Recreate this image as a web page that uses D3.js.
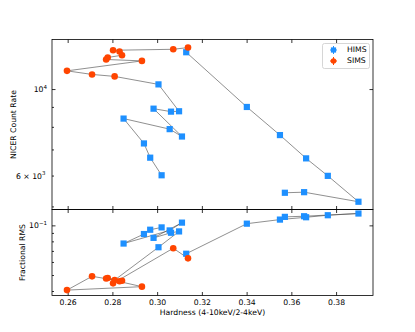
<!DOCTYPE html>
<html><head><meta charset="utf-8">
<script src="https://cdn.jsdelivr.net/npm/d3@7"></script>
<style>body{margin:0;background:#fff}svg{display:block}text{font-family:"DejaVu Sans",sans-serif;fill:#000}</style>
</head><body><svg id="c" width="415" height="332"></svg>
<script>
// Time-ordered observations
const hardness = [0.3571,0.3657,0.3900,0.3763,0.3666,0.3549,0.3401,0.3130,0.3138,0.3072,
  0.2803,0.2832,0.2843,0.2779,0.2772,0.2932,0.2597,0.2709,0.2810,0.3006,
  0.3098,0.3062,0.2984,0.3111,0.3056,0.2850,0.2941,0.2969,0.3020];
const countRate = [5420,5439,5140,5989,6641,7620,8996,12429,12776,12647,
  12574,12479,12213,12049,11908,11810,11135,10902,10775,10280,
  8771,8751,8906,7556,7892,8400,7253,6668,6010];
const rms = [0.1126,0.1136,0.1180,0.1152,0.1120,0.1084,0.1024,0.0673,0.0631,0.0727,
  0.0445,0.0458,0.0462,0.0480,0.0476,0.0425,0.0405,0.0491,0.0466,0.0737,
  0.0919,0.0902,0.0840,0.1039,0.0932,0.0776,0.0886,0.0941,0.0972];
const state = ["HIMS","HIMS","HIMS","HIMS","HIMS","HIMS","HIMS","HIMS","SIMS","SIMS",
  "SIMS","SIMS","SIMS","SIMS","SIMS","SIMS","SIMS","SIMS","SIMS","HIMS",
  "HIMS","HIMS","HIMS","HIMS","HIMS","HIMS","HIMS","HIMS","HIMS"];
const xTicks = [0.26,0.28,0.30,0.32,0.34,0.36,0.38];
const countMajor = [10000];
const countMinor = [5000,6000,7000,8000,9000];
const countMinorLabels = {6000:["6 × 10","3"]};
const rmsMajor = [0.1];
const rmsMinor = [0.04,0.05,0.06,0.07,0.08,0.09];
const states = ["HIMS","SIMS"];
const colors = {HIMS:"#1E90FF", SIMS:"#FF4500"};

const FS = 7.7;
const svg = d3.select("#c");
const L=52, R=373, T1=39.5, B1=209.5, T2=209.5, B2=295.5;
const x = d3.scaleLinear().domain([0.2530,0.3965]).range([L,R]);
const yTop = d3.scaleLog().domain([4910,13400]).range([B1,T1]);
const yBot = d3.scaleLog().domain([0.03757,0.1248]).range([B2,T2]);
const data = hardness.map((h,i)=>({h, c:countRate[i], r:rms[i], s:state[i]}));

function supLabel(sel, parts){
  sel.text(null);
  sel.append("tspan").text(parts[0]);
  sel.append("tspan").attr("dy",-3.2).attr("font-size",5.5).text(parts[1]);
}
function clean(g){ g.select(".domain").remove(); g.selectAll("line").attr("stroke","#000").attr("stroke-width",0.8); g.selectAll("text").attr("font-size",FS).attr("font-family","DejaVu Sans"); }

// x axes
svg.append("g").attr("transform",`translate(0,${B2})`)
  .call(d3.axisBottom(x).tickValues(xTicks).tickSize(-3.5).tickPadding(4.5).tickFormat(d3.format(".2f")))
  .call(clean);
[[T1,"top"],[B1,"bot"],[T2,"top"]].forEach(([yy,dir])=>{
  const ax = dir==="top" ? d3.axisBottom(x).tickSize(3.5) : d3.axisTop(x).tickSize(3.5);
  svg.append("g").attr("transform",`translate(0,${yy})`)
    .call(ax.tickValues(xTicks).tickFormat(""))
    .call(clean);
});

// y axes top panel
svg.append("g").attr("transform",`translate(${L},0)`)
  .call(d3.axisLeft(yTop).tickValues(countMajor).tickSize(-3.5).tickPadding(5).tickFormat(()=>""))
  .call(clean).selectAll("text").each(function(){supLabel(d3.select(this),["10","4"]);});
svg.append("g").attr("transform",`translate(${L},0)`)
  .call(d3.axisLeft(yTop).tickValues(countMinor).tickSize(-2).tickPadding(6.5).tickFormat(()=>""))
  .call(clean).selectAll("text").each(function(d){ if(countMinorLabels[d]) supLabel(d3.select(this),countMinorLabels[d]); });
svg.append("g").attr("transform",`translate(${R},0)`)
  .call(d3.axisRight(yTop).tickValues(countMajor).tickSize(-3.5).tickFormat(""))
  .call(clean);

// y axes bottom panel
svg.append("g").attr("transform",`translate(${L},0)`)
  .call(d3.axisLeft(yBot).tickValues(rmsMajor).tickSize(-3.5).tickPadding(5).tickFormat(()=>""))
  .call(clean).selectAll("text").each(function(){supLabel(d3.select(this),["10","−1"]);});
svg.append("g").attr("transform",`translate(${L},0)`)
  .call(d3.axisLeft(yBot).tickValues(rmsMinor).tickSize(-2).tickFormat(""))
  .call(clean);
svg.append("g").attr("transform",`translate(${R},0)`)
  .call(d3.axisRight(yBot).tickValues(rmsMajor).tickSize(-3.5).tickFormat(""))
  .call(clean);

// connecting lines
const lineTop = d3.line().x(d=>x(d.h)).y(d=>yTop(d.c));
const lineBot = d3.line().x(d=>x(d.h)).y(d=>yBot(d.r));
svg.append("path").attr("d",lineTop(data)).attr("fill","none").attr("stroke","#444").attr("stroke-width",0.6);
svg.append("path").attr("d",lineBot(data)).attr("fill","none").attr("stroke","#444").attr("stroke-width",0.6);

// markers
function drawMarkers(yfn, key){
  states.forEach(s=>{
    const sub = data.filter(d=>d.s===s);
    if(s==="HIMS"){
      svg.append("g").selectAll("rect").data(sub).join("rect")
        .attr("x",d=>x(d.h)-3.1).attr("y",d=>yfn(d[key])-3.1).attr("width",6.2).attr("height",6.2)
        .attr("fill",colors[s]);
    } else {
      svg.append("g").selectAll("circle").data(sub).join("circle")
        .attr("cx",d=>x(d.h)).attr("cy",d=>yfn(d[key])).attr("r",3.3)
        .attr("fill",colors[s]);
    }
  });
}
drawMarkers(yTop,"c");
drawMarkers(yBot,"r");

// frames
svg.append("rect").attr("x",L).attr("y",T1).attr("width",R-L).attr("height",B1-T1).attr("fill","none").attr("stroke","#000").attr("stroke-width",0.8);
svg.append("rect").attr("x",L).attr("y",T2).attr("width",R-L).attr("height",B2-T2).attr("fill","none").attr("stroke","#000").attr("stroke-width",0.8);

// axis titles
svg.append("text").attr("transform","translate(14,124.5) rotate(-90)").attr("text-anchor","middle").attr("dominant-baseline","middle").attr("font-size",FS).text("NICER Count Rate");
svg.append("text").attr("transform","translate(22.5,252.5) rotate(-90)").attr("text-anchor","middle").attr("dominant-baseline","middle").attr("font-size",FS).text("Fractional RMS");
svg.append("text").attr("x",212.5).attr("y",314.5).attr("text-anchor","middle").attr("font-size",FS).text("Hardness (4-10keV/2-4keV)");

// legend
const lg = svg.append("g");
lg.append("rect").attr("x",322.5).attr("y",43.5).attr("width",47).attr("height",25).attr("rx",2)
  .attr("fill","#fff").attr("fill-opacity",0.8).attr("stroke","#ccc").attr("stroke-width",0.8);
states.forEach((s,i)=>{
  const cy = 50 + i*11, cx = 333.5;
  lg.append("line").attr("x1",cx).attr("x2",cx).attr("y1",cy-4).attr("y2",cy+4).attr("stroke",colors[s]).attr("stroke-width",1);
  lg.append("line").attr("x1",cx-3.5).attr("x2",cx+3.5).attr("y1",cy).attr("y2",cy).attr("stroke",colors[s]).attr("stroke-width",1);
  if(s==="HIMS") lg.append("rect").attr("x",cx-2.6).attr("y",cy-2.6).attr("width",5.2).attr("height",5.2).attr("fill",colors[s]);
  else lg.append("circle").attr("cx",cx).attr("cy",cy).attr("r",2.8).attr("fill",colors[s]);
  lg.append("text").attr("x",347).attr("y",cy).attr("dominant-baseline","middle").attr("font-size",FS).text(s);
});
</script></body></html>
